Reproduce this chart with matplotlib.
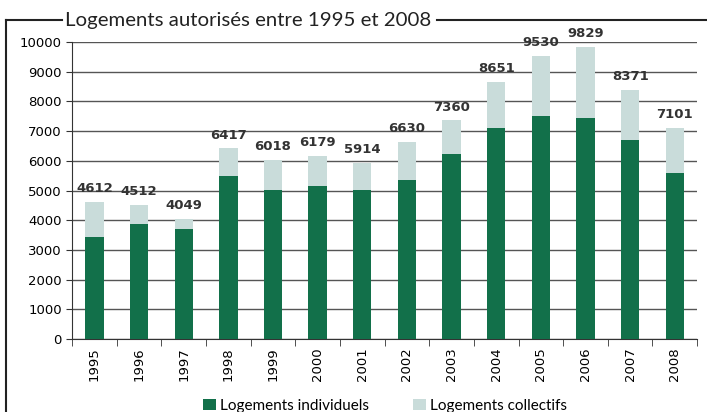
"""Logements autorisés entre 1995 et 2008 - stacked bars."""

import numpy as np
import matplotlib
matplotlib.use("Agg")
import matplotlib.pyplot as plt
from matplotlib.lines import Line2D

years = ["1995", "1996", "1997", "1998", "1999", "2000", "2001",
         "2002", "2003", "2004", "2005", "2006", "2007", "2008"]
totals = [4612, 4512, 4049, 6417, 6018, 6179, 5914,
          6630, 7360, 8651, 9530, 9829, 8371, 7101]
individuels = [3450, 3880, 3700, 5480, 5020, 5160, 5020,
               5370, 6240, 7120, 7520, 7450, 6700, 5600]
collectifs = [t - i for t, i in zip(totals, individuels)]

GREEN = "#12704a"
LIGHT = "#c9dcda"
NARROW = ["Lato", "DejaVu Sans"]

fig = plt.figure(figsize=(7.07, 4.12), dpi=100)
ax = fig.add_axes([0.102, 0.177, 0.884, 0.721])

x = np.arange(len(years))
ax.bar(x, individuels, 0.41, color=GREEN, zorder=3, label="Logements individuels")
ax.bar(x, collectifs, 0.41, bottom=individuels, color=LIGHT, zorder=3,
       label="Logements collectifs")
for xi, t in zip(x, totals):
    ax.annotate(str(t), (xi, t), xytext=(0, 5), textcoords="offset points",
                ha="center", va="bottom", fontsize=9.5, fontweight="bold",
                color="#333333")

ax.set_xlim(-0.5, len(years) - 0.5)
ax.set_ylim(0, 10000)
ax.set_yticks(np.arange(0, 10001, 1000))
ax.tick_params(axis="y", labelsize=9.5, length=4, color="#333333")
ax.set_xticks(x)
ax.set_xticklabels(years, rotation=90, fontsize=9.5)
ax.tick_params(axis="x", which="major", length=0, pad=6)
ax.set_xticks(np.arange(-0.5, len(years)), minor=True)
ax.tick_params(axis="x", which="minor", length=5, color="#333333")
ax.grid(True, axis="y", color="#555555", lw=1, zorder=0)
for s in ["top", "right"]:
    ax.spines[s].set_visible(False)
ax.spines["left"].set_color("#333333")
ax.spines["bottom"].set_color("#333333")

# frame around the figure with the title breaking the top line
fig.add_artist(Line2D([0.008, 0.008], [0, 0.951], transform=fig.transFigure,
                      color="#222222", lw=1.5))
fig.add_artist(Line2D([0.008, 0.088], [0.951, 0.951], transform=fig.transFigure,
                      color="#222222", lw=1.5))
fig.add_artist(Line2D([0.618, 1.0], [0.951, 0.951], transform=fig.transFigure,
                      color="#222222", lw=1.5))
fig.text(0.092, 0.951, "Logements autorisés entre 1995 et 2008", family=NARROW,
         fontsize=14.7, va="center", ha="left", color="#222222")

fig.legend(loc="lower center", bbox_to_anchor=(0.545, -0.035), ncol=2,
           frameon=False, prop={"family": NARROW, "size": 11},
           handlelength=0.8, handleheight=0.8, handletextpad=0.3,
           columnspacing=2.9)

fig.savefig("out.png", dpi=100)
